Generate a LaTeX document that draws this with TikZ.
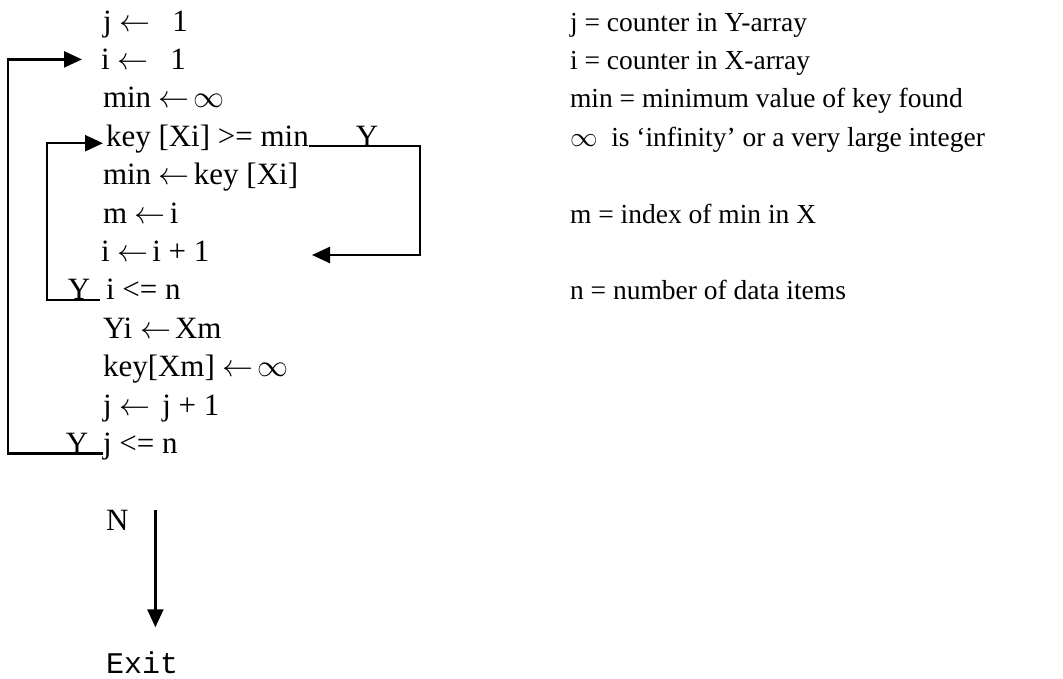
\RequirePackage{fix-cm}
\documentclass[tikz,border=0pt]{standalone}
\usepackage{fontspec}
\setmainfont{Liberation Serif}
\setmonofont{Liberation Mono}
\usetikzlibrary{arrows.meta,positioning}
\newcommand{\asgn}{$\leftarrow$}

\begin{document}
\begin{tikzpicture}[x=1pt, y=-1pt, font=\fontsize{31}{35}\selectfont,
    stmt/.style={anchor=base west, inner sep=0pt, outer sep=0pt},
    note/.style={anchor=base west, inner sep=0pt, outer sep=0pt,
                 font=\fontsize{27.5}{32}\selectfont},
    yes/.style={anchor=base, inner sep=0pt, outer sep=0pt},
    flow/.style={line width=2.4pt, -{Triangle[length=18pt,width=16pt]}}]
  \useasboundingbox (0,0) rectangle (1063,678);
  %% Program lines
  \node[stmt] (jset) at (103, 31.0)  {j \asgn\hspace{22pt}1};
  \node[stmt] (iset) at (101, 69.4)  {i \asgn\hspace{22pt}1};
  \node[stmt] (mset) at (103,107.8)  {min \asgn\kern4pt$\infty$};
  \node[stmt] (key)  at (106,146.2)  {key [Xi] >= min};
  \node[stmt] (mkey) at (103,184.6)  {min \asgn\kern4pt key [Xi]};
  \node[stmt] (midx) at (103,223.0)  {m \asgn\kern4pt i};
  \node[stmt] (inc)  at (101,261.4)  {i \asgn\kern4pt i + 1};
  \node[stmt] (ile)  at (106,299.8)  {i <= n};
  \node[stmt] (ycp)  at (103,338.2)  {Yi \asgn\kern4pt Xm};
  \node[stmt] (kinf) at (103,376.6)  {key[Xm] \asgn\kern4pt$\infty$};
  \node[stmt] (jinc) at (103,415.0)  {j \asgn\hspace{12pt}j + 1};
  \node[stmt] (jle)  at (103,453.4)  {j <= n};
  \node[stmt] (nlbl) at (106,530.2)  {N};
  \node[stmt, font=\fontsize{30}{34}\ttfamily] (exit) at (106,673) {Exit};
  %% Notes on the right
  \node[note] (nj)   at (570, 31.0)  {j = counter in Y-array};
  \node[note] (ni)   at (570, 69.4)  {i = counter in X-array};
  \node[note] (nmin) at (570,107.8)  {min = minimum value of key found};
  \node[note] (ninf) at (570,146.2)  {$\infty$\ \ is ‘infinity’ or a very large integer};
  \node[note] (nm)   at (570,223.0)  {m = index of min in X};
  \node[note] (nn)   at (570,299.8)  {n = number of data items};
  %% Branch labels
  \node[yes] (ykey) at (367,146.2) {Y};
  \node[yes] (yile) at (79,299.8)  {Y};
  \node[yes] (yjle) at (77,453.4)  {Y};
  %% Turning points of the loops
  \coordinate (jturn) at (8,0);
  \coordinate (iturn) at (47,0);
  \coordinate (rturn) at (420,0);
  \coordinate (incin) at (312,255);
  %% Loops
  \draw[flow] (jle.base west) -- (jle.base west -| jturn)
    |- ([xshift=-19pt,yshift=10pt]iset.base west);
  \draw[flow] ([xshift=-6pt]ile.base west) -- (ile.base west -| iturn)
    |- ([xshift=-3pt,yshift=3pt]key.base west);
  \draw[flow] (key.base east) -- (key.base east -| rturn) |- (incin);
  %% Exit
  \draw[flow, shorten >=24pt] ([xshift=27pt]nlbl.north east)
    -- ([xshift=27pt]nlbl.north east |- exit.north);
\end{tikzpicture}
\end{document}
